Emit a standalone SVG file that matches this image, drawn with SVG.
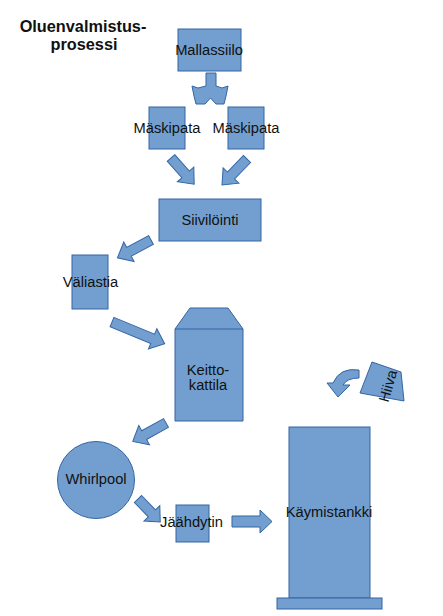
<svg xmlns="http://www.w3.org/2000/svg" width="443" height="616" viewBox="0 0 443 616">
<style>
.s{fill:#729fcf;stroke:#3465a4;stroke-width:1}
.t{font-family:"Liberation Sans",Arial,sans-serif;font-size:14.7px;fill:#111;text-anchor:middle}
.h{font-family:"Liberation Sans",Arial,sans-serif;font-size:16.3px;font-weight:bold;fill:#111;text-anchor:middle}
</style>
<defs>
<polygon id="a35" points="0,-5 22,-5 22,-11 35,0 22,11 22,5 0,5"/>
</defs>
<rect width="443" height="616" fill="#fff"/>
<g id="title">
<text class="h" x="83" y="32">Oluenvalmistus-</text>
<text class="h" x="84" y="50">prosessi</text>
</g>
<g id="connectors">
<polygon class="s" points="206,73 216,73 216,86 222,88 228,86 226,96 224,104 216,104 210.5,98 205,104 196,104 194,96 192,86 198,88 206,86"/>
<polygon class="s" transform="translate(171,158) rotate(48.5)" points="0,-5 22,-5 22,-11 35,0 22,11 22,5 0,5"/>
<polygon class="s" transform="translate(247,159) rotate(134)" points="0,-5 23,-5 23,-11 36,0 23,11 23,5 0,5"/>
<polygon class="s" transform="translate(151,240) rotate(152)" points="0,-5 25,-5 25,-11 38,0 25,11 25,5 0,5"/>
<polygon class="s" transform="translate(112,322) rotate(22.5)" points="0,-5 44,-5 44,-11 57,0 44,11 44,5 0,5"/>
<polygon class="s" transform="translate(166,423) rotate(151)" points="0,-5 25,-5 25,-11 38,0 25,11 25,5 0,5"/>
<polygon class="s" transform="translate(138,499) rotate(46)" points="0,-5 20,-5 20,-11 32,0 20,11 20,5 0,5"/>
<polygon class="s" transform="translate(232,521.5)" points="0,-5.5 28,-5.5 28,-11.5 40,0 28,11.5 28,5.5 0,5.5"/>
<path class="s" d="M359,370 Q340,367 333,383 L327,383 L338,397 L350,385 L343,385 Q347,378 359,378 Z"/>
</g>
<g id="mallassiilo">
<rect class="s" x="178" y="29" width="63" height="42"/>
<text class="t" x="209" y="55">Mallassiilo</text>
</g>
<g id="maskipata1">
<rect class="s" x="149" y="107" width="36" height="42"/>
<text class="t" x="167" y="133">Mäskipata</text>
</g>
<g id="maskipata2">
<rect class="s" x="228" y="107" width="36" height="42"/>
<text class="t" x="246" y="133">Mäskipata</text>
</g>
<g id="siivilointi">
<rect class="s" x="159" y="199" width="102" height="42"/>
<text class="t" x="210" y="225">Siivilöinti</text>
</g>
<g id="valiastia">
<rect class="s" x="72" y="255" width="36" height="54"/>
<text class="t" x="90.5" y="287">Väliastia</text>
</g>
<g id="keittokattila">
<polygon class="s" points="190,308 228,308 243,329 243,421 175,421 175,329"/>
<line x1="175" y1="329" x2="243" y2="329" stroke="#3465a4" stroke-width="1"/>
<text class="t" x="208" y="375">Keitto-</text>
<text class="t" x="208" y="390">kattila</text>
</g>
<g id="whirlpool">
<circle class="s" cx="96" cy="480" r="38.5"/>
<text class="t" x="96" y="484">Whirlpool</text>
</g>
<g id="jaahdytin">
<rect class="s" x="176" y="505" width="33" height="37"/>
<text class="t" x="191.5" y="527">Jäähdytin</text>
</g>
<g id="kaymistankki">
<rect class="s" x="289" y="427" width="81" height="171"/>
<rect class="s" x="277" y="598" width="105" height="11"/>
<text class="t" x="329" y="517">Käymistankki</text>
</g>
<g id="hiiva">
<polygon class="s" points="372,362 401,372 404,401 360,393"/>
<text class="t" transform="translate(388,386) rotate(-74)" x="0" y="5">Hiiva</text>
</g>
</svg>
